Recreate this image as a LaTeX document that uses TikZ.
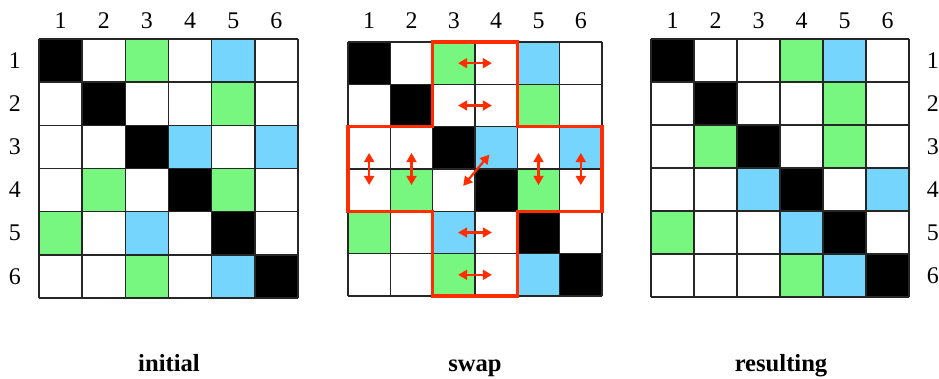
\documentclass[tikz,border=0pt]{standalone}
\usepackage{fontspec}
\setmainfont{Liberation Serif}
\usetikzlibrary{arrows.meta}

\definecolor{cellgreen}{HTML}{77F77F}
\definecolor{cellblue}{HTML}{75D5FC}
\definecolor{swapred}{HTML}{FF2D00}

\begin{document}
\begin{tikzpicture}[x=0.025cm, y=-0.025cm,
  gridline/.style={line width=1.1pt, black!85},
  idx/.style={font=\fontsize{17}{20}\selectfont},
  caption/.style={font=\fontsize{17.5}{20}\selectfont\bfseries, anchor=base},
  swapbox/.style={swapred, line width=2.6pt, line join=miter},
  swaparrow/.style={swapred, line width=1.6pt, {Triangle[length=6.5pt,width=7pt]}-{Triangle[length=6.5pt,width=7pt]}}]
  \useasboundingbox (0,0) rectangle (939,378);

  \begin{scope}[shift={(39,39)}, x=1.079cm, y=-1.079cm]
    \foreach \r/\c/\f in {1/1/black, 2/2/black, 3/3/black, 4/4/black, 5/5/black, 6/6/black,
      1/3/cellgreen, 2/5/cellgreen, 4/2/cellgreen, 4/5/cellgreen, 5/1/cellgreen, 6/3/cellgreen,
      1/5/cellblue, 3/4/cellblue, 3/6/cellblue, 5/3/cellblue, 6/5/cellblue}
      \fill[\f] (\c-1,\r-1) rectangle (\c,\r);
    \foreach \i in {0,...,6}
      \draw[gridline] (\i,0) -- (\i,6) (0,\i) -- (6,\i);
    \foreach \i in {1,...,6} {
      \node[idx] (initcol\i) at (\i-0.5,-0.42) {\i};
      \node[idx] (initrow\i) at (-0.56,\i-0.5) {\i};
    }
  \end{scope}

  \begin{scope}[shift={(348,42)}, x=1.058cm, y=-1.058cm]
    \foreach \r/\c/\f in {1/1/black, 2/2/black, 3/3/black, 4/4/black, 5/5/black, 6/6/black,
      1/3/cellgreen, 2/5/cellgreen, 4/2/cellgreen, 4/5/cellgreen, 5/1/cellgreen, 6/3/cellgreen,
      1/5/cellblue, 3/4/cellblue, 3/6/cellblue, 5/3/cellblue, 6/5/cellblue}
      \fill[\f] (\c-1,\r-1) rectangle (\c,\r);
    \foreach \i in {0,...,6}
      \draw[gridline] (\i,0) -- (\i,6) (0,\i) -- (6,\i);
    \foreach \i in {1,...,6}
      \node[idx] (swapcol\i) at (\i-0.5,-0.5) {\i};
    \draw[swapbox] (2,0) -- (4,0) -- (4,2) -- (6,2) -- (6,4) -- (4,4) -- (4,6)
      -- (2,6) -- (2,4) -- (0,4) -- (0,2) -- (2,2) -- cycle;
    \foreach \r in {1,2,5,6}
      \draw[swaparrow] (2.6,\r-0.5) -- (3.4,\r-0.5);
    \foreach \c in {1,2,5,6}
      \draw[swaparrow] (\c-0.5,2.62) -- (\c-0.5,3.38);
    \draw[swaparrow] (2.72,3.4) -- (3.34,2.66);
  \end{scope}

  \begin{scope}[shift={(651,39)}, x=1.075cm, y=-1.075cm]
    \foreach \r/\c/\f in {1/1/black, 2/2/black, 3/3/black, 4/4/black, 5/5/black, 6/6/black,
      1/4/cellgreen, 2/5/cellgreen, 3/2/cellgreen, 3/5/cellgreen, 5/1/cellgreen, 6/4/cellgreen,
      1/5/cellblue, 4/3/cellblue, 4/6/cellblue, 5/4/cellblue, 6/5/cellblue}
      \fill[\f] (\c-1,\r-1) rectangle (\c,\r);
    \foreach \i in {0,...,6}
      \draw[gridline] (\i,0) -- (\i,6) (0,\i) -- (6,\i);
    \foreach \i in {1,...,6} {
      \node[idx] (rescol\i) at (\i-0.5,-0.42) {\i};
      \node[idx] (resrow\i) at (6.55,\i-0.5) {\i};
    }
  \end{scope}

  \node[caption] (initial) at (169,371) {initial};
  \node[caption] (swap) at (475,371) {swap};
  \node[caption] (resulting) at (781,371) {resulting};
\end{tikzpicture}
\end{document}
